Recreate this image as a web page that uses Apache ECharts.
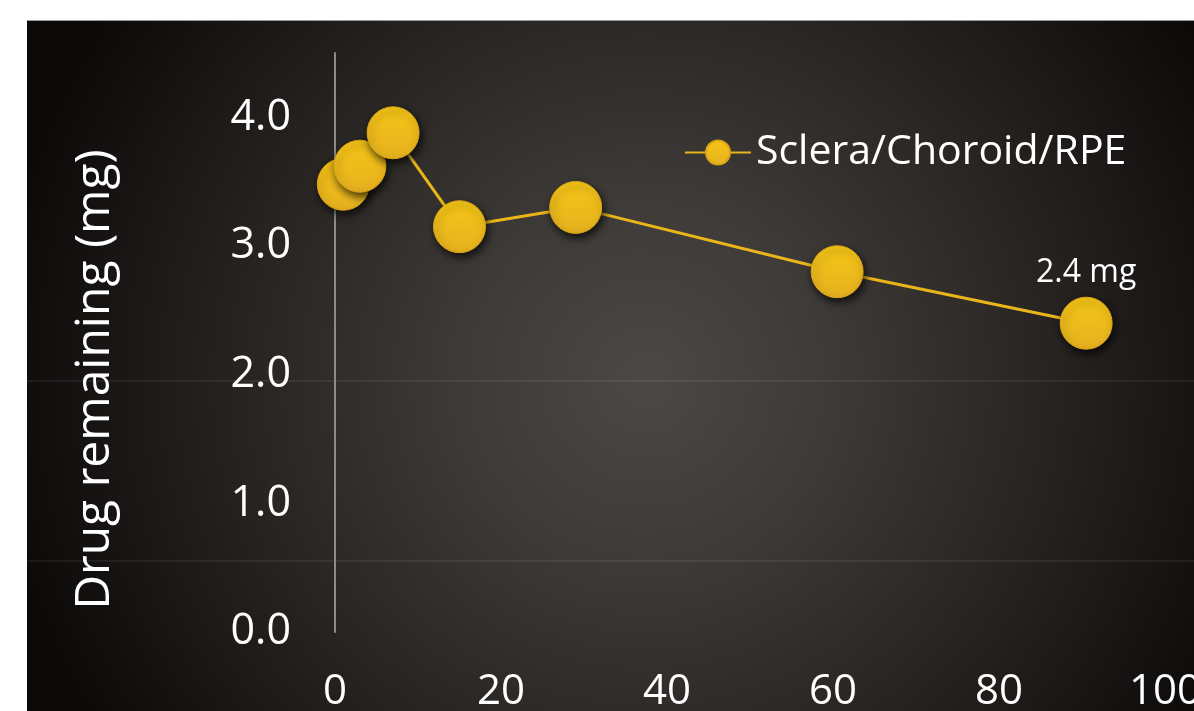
<!DOCTYPE html>
<html>
<head>
<meta charset="utf-8">
<script src="https://cdn.jsdelivr.net/npm/echarts@6/dist/echarts.min.js"></script>
<style>
  html, body { margin: 0; padding: 0; background: #ffffff; width: 1194px; height: 711px; overflow: hidden; }
  #chart {
    position: absolute; left: 27px; top: 20px; width: 1167px; height: 691px;
    background: radial-gradient(circle 660px at 53% 52%, #4b4845 0%, #3d3a37 28%, #262321 62%, #0b0908 100%);
    border-top: 1px solid #9a9a9a;
    box-sizing: border-box;
  }
</style>
</head>
<body>
<div id="chart"></div>
<script>
// Days after dosing and drug remaining in the sclera/choroid/RPE (mg)
const seriesName = 'Sclera/Choroid/RPE';
const days = [1, 3, 7, 15, 29, 60.5, 90.5];
const drugRemaining = [3.48, 3.62, 3.88, 3.15, 3.30, 2.80, 2.4];
const labelledIndex = 6;
const yTicks = [0, 1, 2, 3, 4];
const xTicks = [0, 20, 40, 60, 80, 100];

const FONT = '"Open Sans", Lato, sans-serif';

const points = days.map((d, i) => {
  const item = { value: [d, drugRemaining[i]] };
  if (i === labelledIndex) {
    item.label = {
      show: true, position: 'top', distance: 8,
      formatter: p => p.value[1].toFixed(1) + ' mg',
      color: '#ffffff', fontSize: 32, fontFamily: FONT
    };
  }
  return item;
});

const chart = echarts.init(document.getElementById('chart'), null, { renderer: 'canvas' });
chart.setOption({
  backgroundColor: 'transparent',
  animation: false,
  // plot area is fixed; the "100" tick label is allowed to run past the edge
  grid: { left: 308, right: 29, top: 32, bottom: 79, containLabel: false, outerBoundsMode: 'none' },
  legend: {
    data: [seriesName],
    left: 652, top: 106,
    itemWidth: 66, itemHeight: 30, itemGap: 8,
    textStyle: { color: '#ffffff', fontSize: 41, fontFamily: FONT }
  },
  xAxis: {
    type: 'value', min: 0, max: 100, interval: 20,
    axisLine: { show: false }, axisTick: { show: false }, splitLine: { show: false },
    axisLabel: {
      color: '#ffffff', fontSize: 42, fontFamily: FONT, margin: 39,
      formatter: v => xTicks.includes(v) ? String(v) : ''
    }
  },
  yAxis: {
    type: 'value', min: 0, max: 4.5, interval: 1,
    name: 'Drug remaining (mg)', nameLocation: 'middle', nameGap: 216,
    nameTextStyle: { color: '#ffffff', fontSize: 48, fontFamily: FONT, padding: [0, 74, 0, 0] },
    axisLine: { show: true, lineStyle: { color: '#8c8c8c', width: 2 } },
    axisTick: { show: false }, splitLine: { show: false },
    axisLabel: {
      color: '#ffffff', fontSize: 43, fontFamily: FONT, margin: 44,
      formatter: v => yTicks.includes(v) ? v.toFixed(1) : ''
    }
  },
  graphic: [
    { type: 'line', silent: true, z: -1, shape: { x1: 0, y1: 360, x2: 1167, y2: 360 },
      style: { stroke: 'rgba(255,255,255,0.13)', lineWidth: 1 } },
    { type: 'line', silent: true, z: -1, shape: { x1: 0, y1: 540, x2: 1167, y2: 540 },
      style: { stroke: 'rgba(255,255,255,0.13)', lineWidth: 1 } }
  ],
  series: [{
    name: seriesName,
    type: 'line',
    data: points,
    symbol: 'circle',
    symbolSize: 52,
    lineStyle: { color: '#e9b51a', width: 3 },
    itemStyle: {
      color: new echarts.graphic.LinearGradient(0, 0, 0, 1, [
        { offset: 0, color: '#f6c616' },
        { offset: 1, color: '#e6b120' }
      ]),
      borderColor: '#d9a514', borderWidth: 1,
      shadowColor: 'rgba(0,0,0,0.75)', shadowBlur: 8, shadowOffsetX: 2, shadowOffsetY: 4
    },
    emphasis: { disabled: true }
  }]
});
</script>
</body>
</html>
